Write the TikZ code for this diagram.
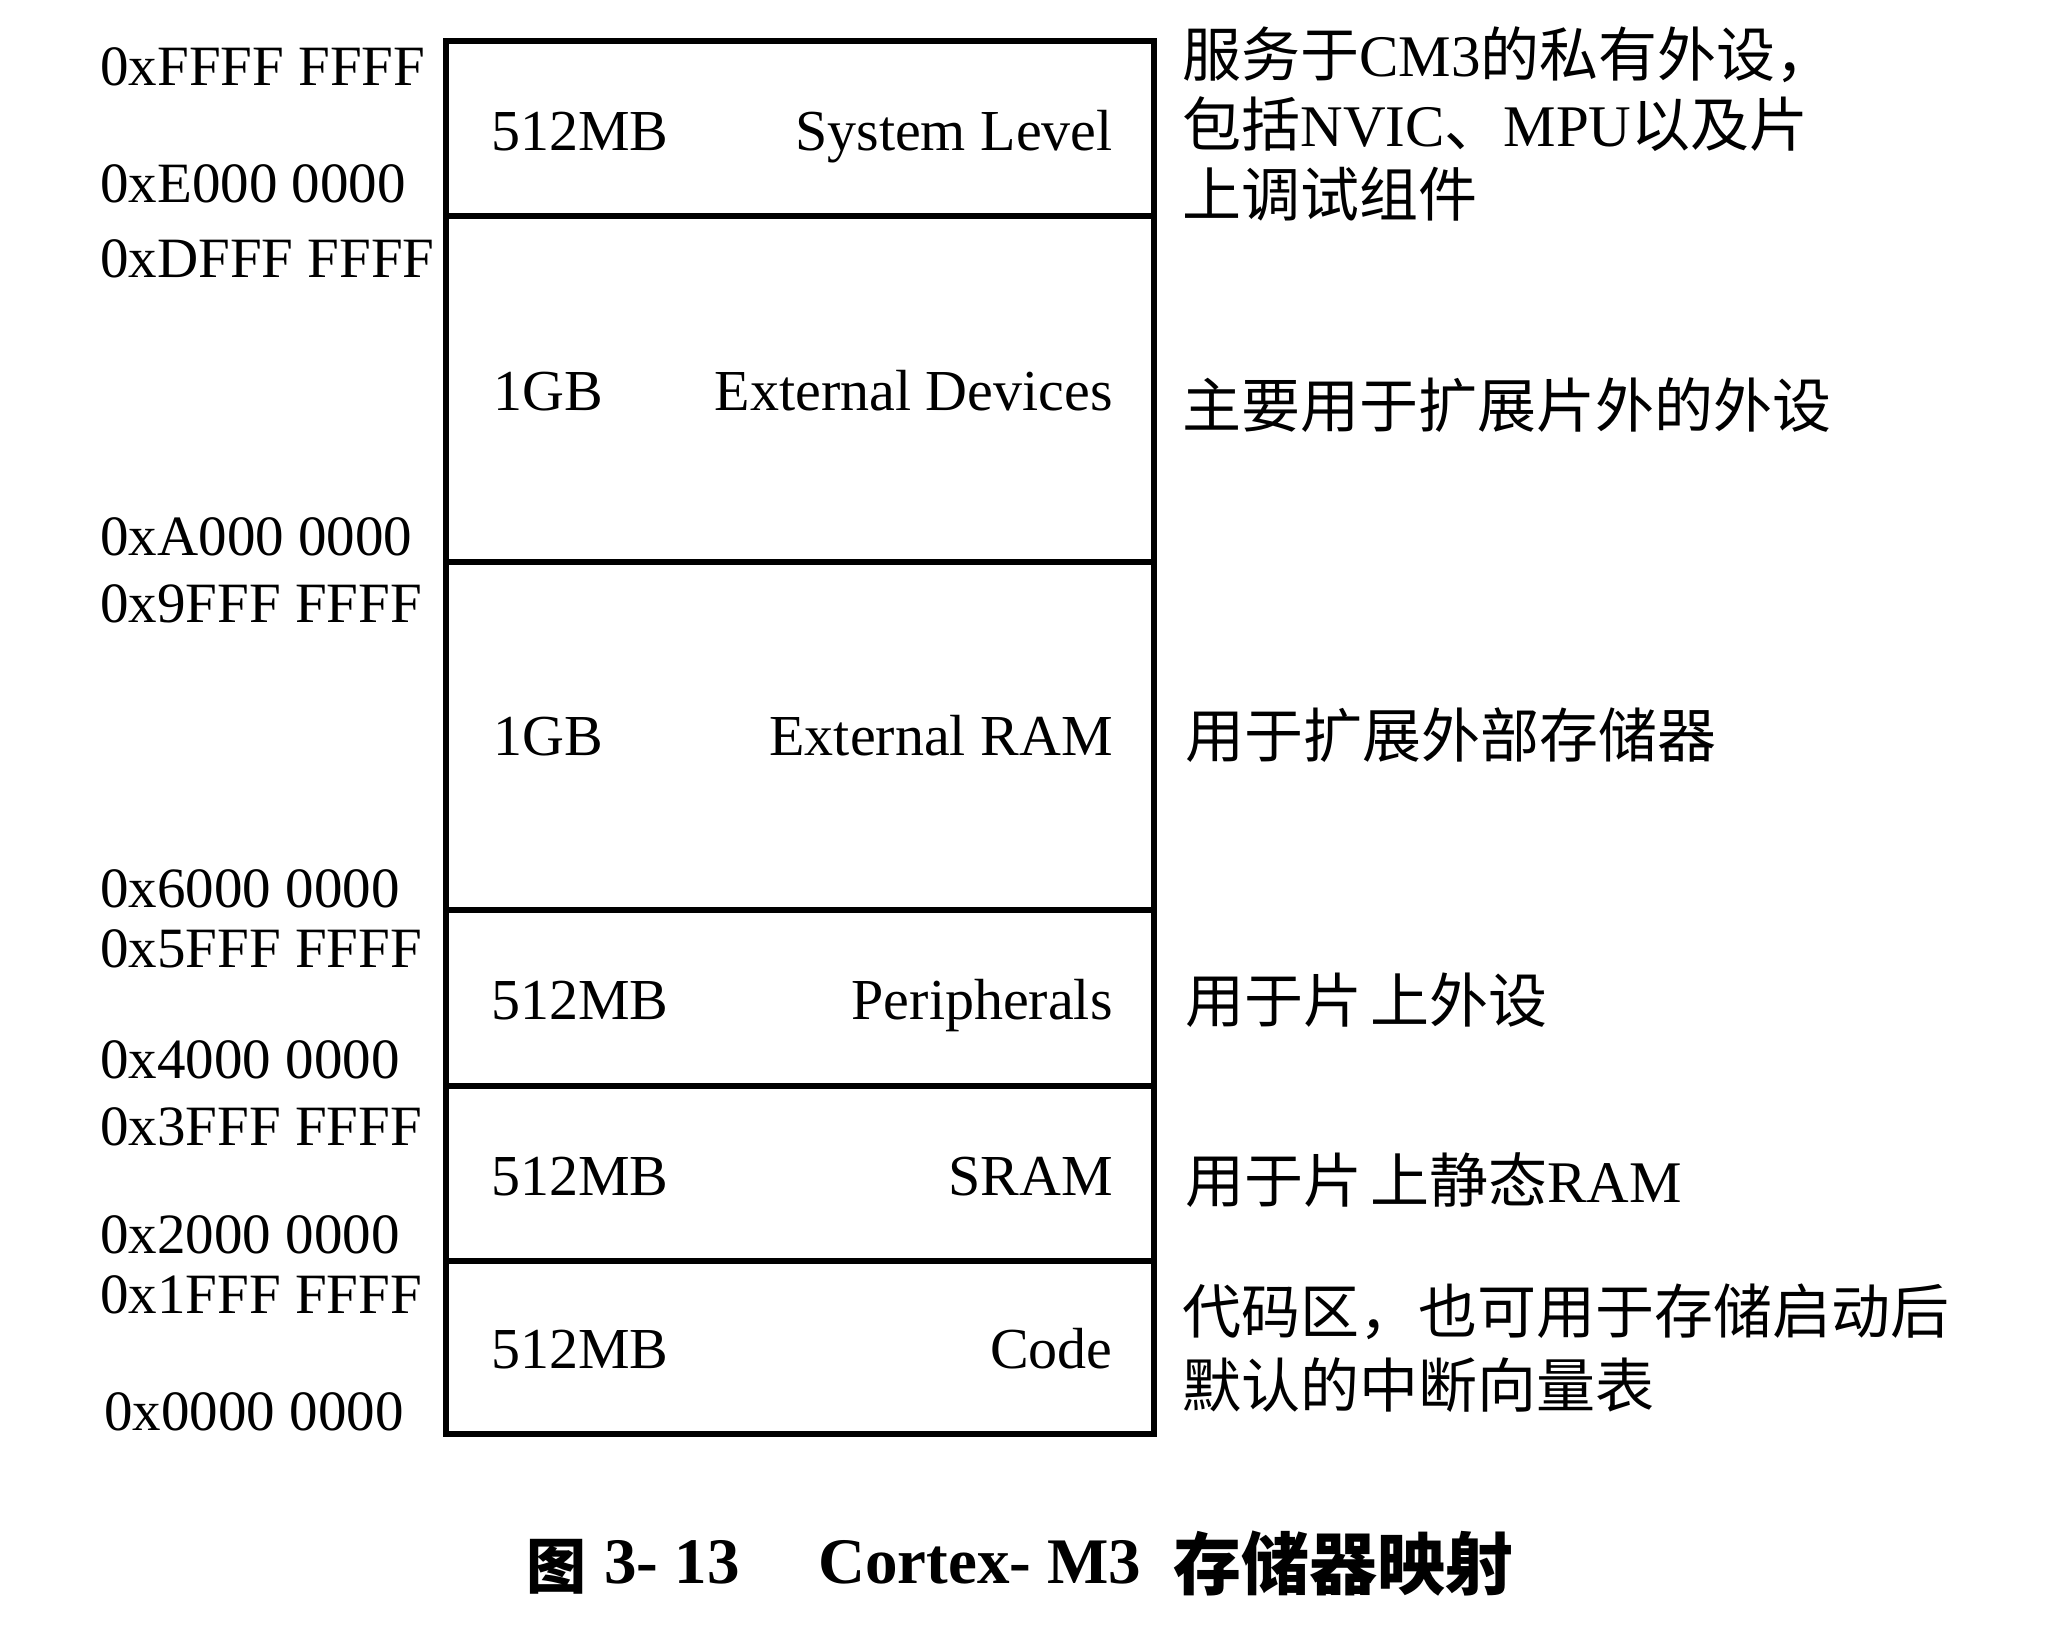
\documentclass[tikz,border=0pt]{standalone}
\usepackage{fontspec}
\setmainfont{Liberation Serif}
\newfontfamily\cjk{Noto Sans CJK SC}
\begin{document}
\begin{tikzpicture}[x=0.5pt,y=-0.5pt,
  box/.style={line width=3pt},
  addr/.style={inner sep=0pt,anchor=base west,font=\fontsize{28.5}{34}\selectfont},
  sizelbl/.style={inner sep=0pt,anchor=base west,font=\fontsize{29}{34}\selectfont},
  namelbl/.style={inner sep=0pt,anchor=base east,font=\fontsize{29}{34}\selectfont},
  note/.style={inner sep=0pt,anchor=base west,font=\fontsize{29.5}{35}\selectfont},
  caplat/.style={inner sep=0pt,anchor=base west,font=\fontsize{32.5}{38}\selectfont\bfseries},
  capcjk/.style={inner sep=0pt,anchor=base west,font=\fontsize{34}{40}\selectfont\cjk\bfseries}]
\fill[white] (0,0) rectangle (2048,1651);
\useasboundingbox (0,0) rectangle (2048,1651);
% memory regions
\draw[box] (446,41) rectangle (1154,1434);
\foreach \yy in {216,562,910,1086,1261} \draw[box] (446,\yy) -- (1154,\yy);
% address labels
\node[addr] (a1) at (100,85) {0xFFFF FFFF};
\node[addr] (a2) at (100,202) {0xE000 0000};
\node[addr] (a3) at (100,277) {0xDFFF FFFF};
\node[addr] (a4) at (100,555) {0xA000 0000};
\node[addr] (a5) at (100,622) {0x9FFF FFFF};
\node[addr] (a6) at (100,907) {0x6000 0000};
\node[addr] (a7) at (100,967) {0x5FFF FFFF};
\node[addr] (a8) at (100,1078) {0x4000 0000};
\node[addr] (a9) at (100,1145) {0x3FFF FFFF};
\node[addr] (a10) at (100,1253) {0x2000 0000};
\node[addr] (a11) at (100,1313) {0x1FFF FFFF};
\node[addr] (a12) at (104,1430) {0x0000 0000};
% sizes and names
\node[sizelbl] (s1) at (491,150) {512MB};
\node[namelbl] (n1) at (1113,150) {System Level};
\node[sizelbl] (s2) at (493,410) {1GB};
\node[namelbl] (n2) at (1113,410) {External Devices};
\node[sizelbl] (s3) at (493,755) {1GB};
\node[namelbl] (n3) at (1113,755) {External RAM};
\node[sizelbl] (s4) at (491,1019) {512MB};
\node[namelbl] (n4) at (1113,1019) {Peripherals};
\node[sizelbl] (s5) at (491,1195) {512MB};
\node[namelbl] (n5) at (1113,1195) {SRAM};
\node[sizelbl] (s6) at (491,1368) {512MB};
\node[namelbl] (n6) at (1113,1368) {Code};
% notes
\node[note] (r1a) at (1182,76) {{\cjk 服务于}CM3{\cjk 的私有外设，}};
\node[note] (r1b) at (1182,146) {{\cjk 包括}NVIC{\cjk 、}MPU{\cjk 以及片}};
\node[note] (r1c) at (1182,216) {\cjk 上调试组件};
\node[note] (r2) at (1182,427) {\cjk 主要用于扩展片外的外设};
\node[note] (r3) at (1185,757) {\cjk 用于扩展外部存储器};
\node[note] (r4) at (1185,1022) {{\cjk 用于片}\hspace{4pt}{\cjk 上外设}};
\node[note] (r5) at (1185,1202) {{\cjk 用于片}\hspace{4pt}{\cjk 上静态}RAM};
\node[note] (r6a) at (1182,1333) {\cjk 代码区，也可用于存储启动后};
\node[note] (r6b) at (1182,1407) {\cjk 默认的中断向量表};
% caption
\node[capcjk,font=\fontsize{30}{36}\selectfont\cjk\bfseries] (c1) at (526,1588) {图};
\node[caplat] (c2) at (604,1583) {3-{\kern0.25em}13};
\node[caplat] (c3) at (818,1583) {Cortex-{\kern0.25em}M3};
\node[capcjk] (c4) at (1173,1589) {存储器映射};
\end{tikzpicture}
\end{document}
